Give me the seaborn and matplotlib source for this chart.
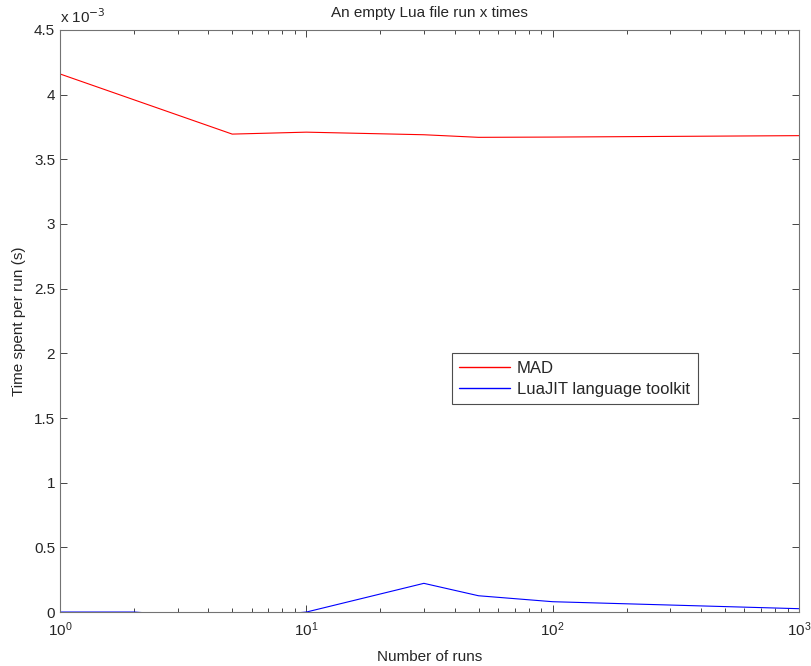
import numpy as np
import pandas as pd
import matplotlib
matplotlib.use("Agg")
import matplotlib.pyplot as plt
import seaborn as sns
from matplotlib.ticker import LogLocator, NullFormatter

# time per run, in units of 1e-3 s
runs_mad = [1, 5, 10, 30, 50, 100, 1000]
time_mad = [4.16, 3.695, 3.71, 3.69, 3.67, 3.672, 3.683]

runs_lua = [1, 2, 5, 10, 30, 50, 100, 1000]
time_lua = [0.0, 0.0, -0.05, 0.0, 0.222, 0.126, 0.08, 0.026]

y_ticks = [0, 0.5, 1, 1.5, 2, 2.5, 3, 3.5, 4, 4.5]

sns.set_style("ticks")
plt.rcParams['font.family'] = ['Liberation Sans', 'DejaVu Sans']

fig = plt.figure(figsize=(8.12, 6.66), dpi=100)
ax = fig.add_axes([0.0739, 0.081, 0.9101, 0.874])

sns.lineplot(x=runs_mad, y=time_mad, color='#ff0000', lw=0.8, label='MAD', ax=ax)
sns.lineplot(x=runs_lua, y=time_lua, color='#0000ff', lw=0.8, label='LuaJIT language toolkit', ax=ax)

ax.set_xscale('log')
ax.set_xlim(1, 1000)
ax.set_ylim(0, 4.5)
ax.set_yticks(y_ticks)
ax.set_yticklabels([f"{v:g}" for v in y_ticks])
ax.xaxis.set_major_locator(LogLocator(base=10, numticks=10))
ax.xaxis.set_minor_locator(LogLocator(base=10, subs=np.arange(2, 10), numticks=20))
ax.xaxis.set_minor_formatter(NullFormatter())

ax.tick_params(which='both', direction='in', top=True, right=True, labelsize=11, color='0.15')
ax.tick_params(which='major', length=5, width=0.6)
ax.tick_params(which='minor', length=3, width=0.6)
ax.tick_params(axis='x', which='major', pad=6)
for s in ax.spines.values():
    s.set_color('0.45')
    s.set_linewidth(0.8)
ax.spines['bottom'].set_zorder(1)

ax.set_title('An empty Lua file run x times', fontsize=11, pad=9)
ax.set_xlabel('Number of runs', fontsize=11, labelpad=8)
ax.set_ylabel('Time spent per run (s)', fontsize=11, labelpad=6)
ax.text(0.0, 1.006, r'x 10$^{-3}$', transform=ax.transAxes, fontsize=11, ha='left', va='bottom')

leg = ax.legend(loc='upper left', bbox_to_anchor=(0.530, 0.445), fontsize=12,
                frameon=True, fancybox=False, edgecolor='0.3', framealpha=1,
                borderaxespad=0, handlelength=3.05, handletextpad=0.42,
                borderpad=0.45, labelspacing=0.38)
leg.get_frame().set_linewidth(0.8)
for h in leg.get_lines():
    h.set_linewidth(1.0)

fig.savefig('out.png', dpi=100)
